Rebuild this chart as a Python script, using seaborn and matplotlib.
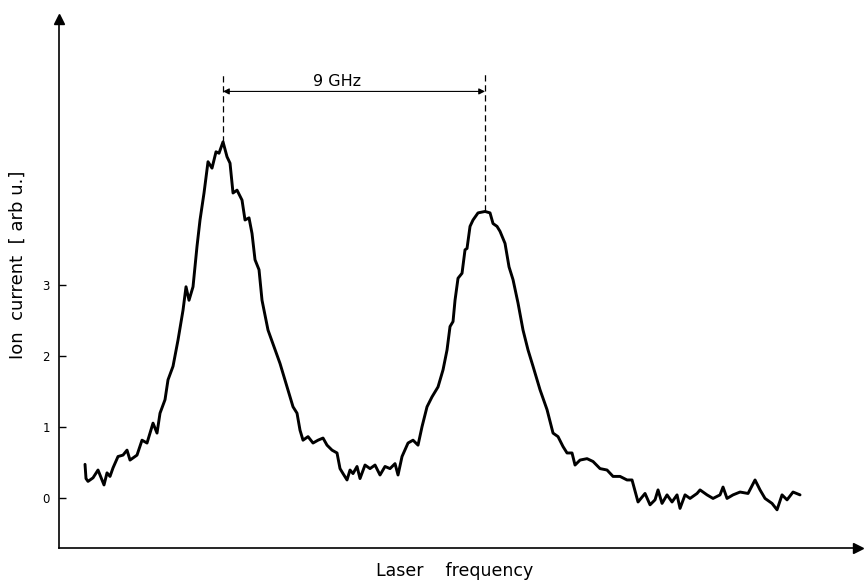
import matplotlib
matplotlib.use('Agg')
import matplotlib.pyplot as plt
import numpy as np
import seaborn as sns
import pandas as pd

# Scan channel (laser frequency, arbitrary steps) and ion current [arb. u.]
channel = [26, 27, 29, 34, 39, 43, 45, 48, 51, 54, 59, 64, 68, 71, 78, 83, 88, 94, 98,
           101, 106, 109, 114, 119, 124, 127, 130, 134, 138, 141, 145, 149, 153, 157,
           160, 164, 168, 171, 174, 178, 183, 186, 190, 193, 196, 200, 203, 209, 221,
           231, 234, 238, 241, 244, 249, 254, 259, 264, 268, 273, 278, 281, 284, 288,
           291, 294, 298, 301, 306, 311, 316, 321, 326, 331, 336, 339, 343, 349, 354,
           359, 363, 368, 373, 379, 384, 388, 391, 394, 396, 399, 403, 406, 408, 411,
           414, 419, 426, 431, 434, 438, 441, 446, 450, 454, 459, 464, 469, 474, 481,
           488, 494, 499, 504, 508, 513, 516, 521, 528, 534, 541, 548, 554, 561, 568,
           573, 579, 586, 591, 596, 599, 603, 608, 613, 618, 621, 626, 631, 638, 641,
           648, 654, 661, 664, 668, 674, 681, 689, 696, 701, 706, 713, 718, 723, 728,
           734, 741]
ion_current = [0.47, 0.27, 0.23, 0.28, 0.39, 0.25, 0.18, 0.35, 0.30, 0.42, 0.58, 0.60,
               0.67, 0.53, 0.60, 0.81, 0.77, 1.05, 0.91, 1.19, 1.38, 1.66, 1.85, 2.22,
               2.64, 2.97, 2.78, 2.97, 3.54, 3.91, 4.29, 4.73, 4.64, 4.87, 4.85, 5.01,
               4.80, 4.71, 4.29, 4.33, 4.19, 3.91, 3.94, 3.72, 3.35, 3.21, 2.78, 2.36,
               1.89, 1.42, 1.28, 1.19, 0.95, 0.81, 0.86, 0.77, 0.81, 0.84, 0.74, 0.67,
               0.63, 0.41, 0.34, 0.25, 0.39, 0.34, 0.44, 0.27, 0.46, 0.41, 0.46, 0.32,
               0.44, 0.41, 0.48, 0.32, 0.58, 0.77, 0.81, 0.74, 1.00, 1.28, 1.42, 1.56,
               1.80, 2.08, 2.41, 2.48, 2.78, 3.09, 3.16, 3.49, 3.51, 3.82, 3.91, 4.01,
               4.03, 4.01, 3.86, 3.82, 3.75, 3.58, 3.25, 3.07, 2.74, 2.36, 2.08, 1.85,
               1.52, 1.24, 0.91, 0.86, 0.72, 0.63, 0.63, 0.46, 0.53, 0.55, 0.51, 0.41,
               0.39, 0.30, 0.30, 0.25, 0.25, -0.06, 0.06, -0.10, -0.03, 0.11, -0.08,
               0.04, -0.06, 0.04, -0.15, 0.04, -0.01, 0.06, 0.11, 0.04, -0.01, 0.04,
               0.15, -0.01, 0.04, 0.08, 0.06, 0.25, 0.11, -0.01, -0.08, -0.17, 0.04,
               -0.03, 0.08, 0.04]

ytick_values = [0, 1, 2, 3]
ytick_labels = ['0', '1', '2', '3']
separation_label = '9 GHz'

df = pd.DataFrame({'channel': channel, 'current': ion_current})

# peak positions for the 9 GHz marker
left = df[df['channel'] < 300]
right = df[df['channel'] >= 300]
peak1 = left.loc[left['current'].idxmax()]
peak2 = right.loc[right['current'].idxmax()]

sns.set_style('white')
plt.rcParams['font.family'] = ['DejaVu Sans']

fig = plt.figure(figsize=(8.64, 5.82), dpi=100)
ax = fig.add_axes([0.0683, 0.0584, 0.9248, 0.9090])

sns.lineplot(data=df, x='channel', y='current', ax=ax, color='black',
             linewidth=2.1, estimator=None, sort=True)

ax.set_xlim(0, 799)
ax.set_ylim(-0.708, 6.74)

# only left/bottom axes, with arrow heads
for side in ['top', 'right']:
    ax.spines[side].set_visible(False)
for side in ['left', 'bottom']:
    ax.spines[side].set_color('black')
    ax.spines[side].set_linewidth(1.2)
ax.plot(1, 0, marker='>', color='black', markersize=7,
        transform=ax.transAxes, clip_on=False)
ax.plot(0, 1, marker='^', color='black', markersize=7,
        transform=ax.transAxes, clip_on=False)

ax.set_xticks([])
ax.set_yticks(ytick_values)
ax.set_yticklabels(ytick_labels)
ax.tick_params(axis='y', direction='in', length=5, width=1.0, pad=6.5,
               labelsize=8.5, colors='black', left=True)

# dashed lines from the peaks and the separation arrow
top = 5.97
ax.plot([peak1['channel']] * 2, [peak1['current'], top], color='black',
        lw=0.9, ls=(0, (5, 3)))
ax.plot([peak2['channel']] * 2, [peak2['current'], top], color='black',
        lw=0.9, ls=(0, (5, 3)))
ax.annotate('', xy=(peak2['channel'], 5.72), xytext=(peak1['channel'], 5.72),
            arrowprops=dict(arrowstyle='<|-|>', color='black', lw=0.8,
                            mutation_scale=9, shrinkA=0, shrinkB=0))
mid = (peak1['channel'] + peak2['channel']) / 2
ax.text(mid - 17, 5.79, separation_label, ha='center', va='baseline',
        fontsize=11.5, color='black')

ax.set_xlabel('Laser    frequency', fontsize=12.5, color='black')
ax.xaxis.set_label_coords(0.4956, -0.026)
ax.set_ylabel('Ion  current  [ arb u.]', fontsize=13, color='black')
ax.yaxis.set_label_coords(-0.040, 0.535)

fig.savefig('out.png', dpi=100, facecolor='white')
